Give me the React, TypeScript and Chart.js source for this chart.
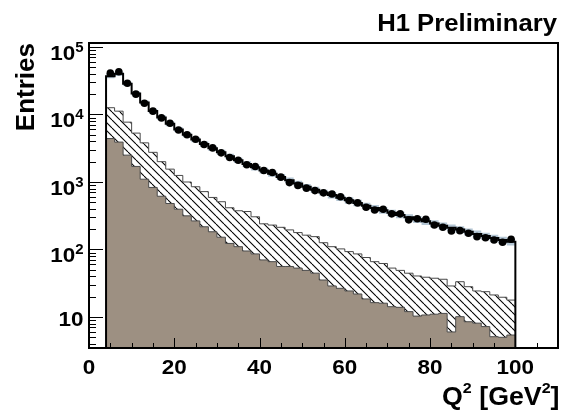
import React, { useEffect, useRef } from "react";
import { Chart, registerables } from "chart.js";

Chart.register(...registerables);

// Q^2 bins: width 2 GeV^2, from 4 to 100
const binCenters = [
  5, 7, 9, 11, 13, 15, 17, 19, 21, 23,
  25, 27, 29, 31, 33, 35, 37, 39, 41, 43,
  45, 47, 49, 51, 53, 55, 57, 59, 61, 63,
  65, 67, 69, 71, 73, 75, 77, 79, 81, 83,
  85, 87, 89, 91, 93, 95, 97, 99,
];
const binHalfWidth = 1;

// data points (Entries)
const dataEntries = [
  41000, 43000, 29000, 20000, 14700, 11200, 8900, 7400, 5900, 5000,
  4300, 3600, 3200, 2700, 2300, 2100, 1800, 1700, 1480, 1380,
  1180, 980, 890, 810, 745, 690, 665, 605, 530, 490,
  423, 385, 395, 337, 337, 275, 285, 280, 230, 213,
  188, 190, 174, 155, 149, 138, 128, 142,
];

// total MC histogram
const mcTotal = [
  37000, 40000, 28500, 20500, 15000, 11300, 9000, 7300, 6000, 5000,
  4250, 3650, 3150, 2750, 2400, 2100, 1850, 1650, 1480, 1330,
  1190, 1060, 950, 850, 770, 700, 640, 585, 535, 490,
  445, 410, 380, 350, 325, 300, 280, 262, 242, 225,
  210, 197, 183, 170, 158, 148, 138, 130,
];

// relative uncertainty of MC total (band)
const mcRelErr = [
  0.07, 0.07, 0.07, 0.07, 0.07, 0.08, 0.08, 0.08, 0.08, 0.08,
  0.09, 0.09, 0.09, 0.09, 0.09, 0.09, 0.10, 0.10, 0.10, 0.10,
  0.10, 0.10, 0.10, 0.10, 0.10, 0.10, 0.11, 0.11, 0.11, 0.11,
  0.11, 0.11, 0.11, 0.11, 0.11, 0.11, 0.12, 0.12, 0.12, 0.12,
  0.12, 0.12, 0.12, 0.12, 0.12, 0.12, 0.12, 0.12,
];

// hatched component (upper edge)
const hatchUpper = [
  12600, 11200, 7700, 5300, 3800, 2750, 2000, 1550, 1250, 1000,
  850, 720, 590, 510, 415, 375, 365, 305, 240, 230,
  213, 195, 178, 163, 155, 126, 110, 102, 93, 86,
  76, 66, 62, 53, 49, 44.5, 40.5, 38.8, 37.5, 36.2,
  28.8, 33.3, 28.1, 24.3, 23.7, 21.2, 19.6, 17.8,
];

// filled component
const filledBkg = [
  4400, 3900, 2500, 1700, 1100, 830, 615, 480, 395, 315,
  265, 217, 183, 152, 123, 110, 95, 86, 70, 66,
  56, 56, 53, 49, 44.6, 35.3, 28.8, 26.6, 24.3, 21.9,
  18.5, 16.3, 16, 14.2, 13.9, 12, 10.3, 10.7, 11, 11.3,
  6.0, 10.1, 8.5, 8.1, 7.2, 5.1, 5.0, 5.4,
];

const xMin = 0;
const xMax = 110;
const yMin = 3.47;
const yMax = 114600;
const xMajorTicks = [0, 20, 40, 60, 80, 100];
const xMinorStep = 5;
const yDecadeExponents = [1, 2, 3, 4, 5];

const FONT = '"Liberation Sans", Arial, Helvetica, sans-serif';
const SX = 1.07;

function stepPoints(values: number[], closeBase?: number) {
  const pts: { x: number; y: number }[] = [];
  if (closeBase !== undefined) pts.push({ x: binCenters[0] - binHalfWidth, y: closeBase });
  pts.push({ x: binCenters[0] - binHalfWidth, y: values[0] });
  values.forEach((v, i) => pts.push({ x: binCenters[i] + binHalfWidth, y: v }));
  if (closeBase !== undefined)
    pts.push({ x: binCenters[binCenters.length - 1] + binHalfWidth, y: closeBase });
  return pts;
}

function makeHatch(): CanvasPattern | string {
  const c = document.createElement("canvas");
  c.width = 8;
  c.height = 8;
  const g = c.getContext("2d");
  if (!g) return "#fff";
  g.fillStyle = "#ffffff";
  g.fillRect(0, 0, 8, 8);
  g.strokeStyle = "#000";
  g.lineWidth = 1.1;
  for (let k = -1; k <= 1; k++) {
    g.beginPath();
    g.moveTo(k * 8, 0);
    g.lineTo(k * 8 + 8, 8);
    g.stroke();
  }
  const p = g.createPattern(c, "repeat");
  return p || "#fff";
}

function txt(ctx: CanvasRenderingContext2D, s: string, x: number, y: number, size: number, align: CanvasTextAlign) {
  ctx.save();
  ctx.font = `bold ${size}px ${FONT}`;
  ctx.translate(x, y);
  ctx.scale(SX, 1);
  ctx.textAlign = align;
  ctx.textBaseline = "alphabetic";
  ctx.fillText(s, 0, 0);
  ctx.restore();
}
function wid(ctx: CanvasRenderingContext2D, s: string, size: number) {
  ctx.save();
  ctx.font = `bold ${size}px ${FONT}`;
  const w = ctx.measureText(s).width * SX;
  ctx.restore();
  return w;
}

const framePlugin = {
  id: "rootFrame",
  afterDraw(chart: any) {
    const ctx: CanvasRenderingContext2D = chart.ctx;
    const { left, right, top, bottom } = chart.chartArea;
    const xs = chart.scales.x;
    const ys = chart.scales.y;
    ctx.save();
    ctx.fillStyle = "#000";
    ctx.strokeStyle = "#000";
    // ticks
    ctx.lineWidth = 1;
    ctx.beginPath();
    for (let v = xMin; v <= xMax; v += xMinorStep) {
      const px = Math.round(xs.getPixelForValue(v)) + 0.5;
      const len = xMajorTicks.includes(v) ? 10 : 5;
      ctx.moveTo(px, bottom);
      ctx.lineTo(px, bottom - len);
    }
    for (let d = 0; d <= 5; d++) {
      for (let m = 1; m <= 9; m++) {
        const v = m * Math.pow(10, d);
        if (v < yMin || v > yMax) continue;
        const py = Math.round(ys.getPixelForValue(v)) + 0.5;
        const len = m === 1 ? 14 : 7;
        ctx.moveTo(left, py);
        ctx.lineTo(left + len, py);
      }
    }
    ctx.stroke();
    // frame
    ctx.lineWidth = 2;
    ctx.strokeRect(left, top, right - left, bottom - top);

    // x tick labels
    xMajorTicks.forEach((v) => {
      txt(ctx, String(v), xs.getPixelForValue(v), bottom + 26, 21, "center");
    });
    // y tick labels
    const R = 83.5;
    yDecadeExponents.forEach((e) => {
      const py = ys.getPixelForValue(Math.pow(10, e));
      if (e === 1) {
        txt(ctx, "10", R, py + 9.5, 21, "right");
      } else {
        const sup = String(e);
        const ws = wid(ctx, sup, 14);
        txt(ctx, sup, R - ws, py + 5, 14, "left");
        txt(ctx, "10", R - ws, py + 13, 21, "right");
      }
    });

    // y title
    ctx.save();
    ctx.font = `bold 26px ${FONT}`;
    ctx.translate(33.5, top);
    ctx.rotate(-Math.PI / 2);
    ctx.textAlign = "right";
    ctx.fillText("Entries", 0, 0);
    ctx.restore();

    // x title: Q^2 [GeV^2], right aligned
    const parts: { s: string; size: number; dy: number }[] = [
      { s: "Q", size: 25, dy: 0 },
      { s: "2", size: 15, dy: -12.5 },
      { s: " [GeV", size: 25, dy: 0 },
      { s: "2", size: 15, dy: -12.5 },
      { s: "]", size: 25, dy: 0 },
    ];
    const total = parts.reduce((a, p) => a + wid(ctx, p.s, p.size), 0);
    let x = 559.5 - total;
    parts.forEach((p) => {
      txt(ctx, p.s, x, 405 + p.dy, p.size, "left");
      x += wid(ctx, p.s, p.size);
    });

    // label
    txt(ctx, "H1 Preliminary", 557, 31, 24, "right");
    ctx.restore();
  },
};

export default function App() {
  const ref = useRef<HTMLCanvasElement | null>(null);
  useEffect(() => {
    if (!ref.current) return;
    const hatch = makeHatch();
    const chart = new Chart(ref.current, {
      type: "line",
      data: {
        datasets: [
          {
            label: "Data",
            data: binCenters.map((c, i) => ({ x: c, y: dataEntries[i] })),
            showLine: false,
            pointRadius: 3.8,
            pointBackgroundColor: "#000",
            pointBorderColor: "#000",
            pointBorderWidth: 0,
          },
          {
            label: "MC",
            data: stepPoints(mcTotal, 1),
            stepped: "after",
            borderColor: "#000",
            borderWidth: 2,
            pointRadius: 0,
            fill: false,
          },
          {
            label: "MC err up",
            data: stepPoints(mcTotal.map((v, i) => v * (1 + mcRelErr[i]))),
            stepped: "after",
            borderWidth: 0,
            borderColor: "rgba(0,0,0,0)",
            backgroundColor: "#b4c6d4",
            pointRadius: 0,
            fill: "+1",
          },
          {
            label: "MC err down",
            data: stepPoints(mcTotal.map((v, i) => v * (1 - mcRelErr[i]))),
            stepped: "after",
            borderWidth: 0,
            borderColor: "rgba(0,0,0,0)",
            pointRadius: 0,
            fill: false,
          },
          {
            label: "filled",
            data: stepPoints(filledBkg),
            stepped: "after",
            borderColor: "#4a4a4a",
            borderWidth: 1,
            backgroundColor: "#9d9082",
            pointRadius: 0,
            fill: "start",
          },
          {
            label: "hatched",
            data: stepPoints(hatchUpper),
            stepped: "after",
            borderColor: "#4a4a4a",
            borderWidth: 1,
            backgroundColor: hatch as any,
            pointRadius: 0,
            fill: "start",
          },
        ],
      },
      options: {
        animation: false,
        responsive: false,
        maintainAspectRatio: false,
        devicePixelRatio: 1,
        layout: { padding: { left: 89, top: 43, right: 1, bottom: 66 } },
        plugins: {
          legend: { display: false },
          tooltip: { enabled: false },
        },
        scales: {
          x: { type: "linear", min: xMin, max: xMax, display: false },
          y: { type: "logarithmic", min: yMin, max: yMax, display: false },
        },
      },
      plugins: [framePlugin],
    });
    return () => chart.destroy();
  }, []);
  return (
    <div style={{ position: "absolute", left: 0, top: 0, width: 562, height: 414, background: "#fff" }}>
      <canvas ref={ref} width={562} height={414} />
    </div>
  );
}
